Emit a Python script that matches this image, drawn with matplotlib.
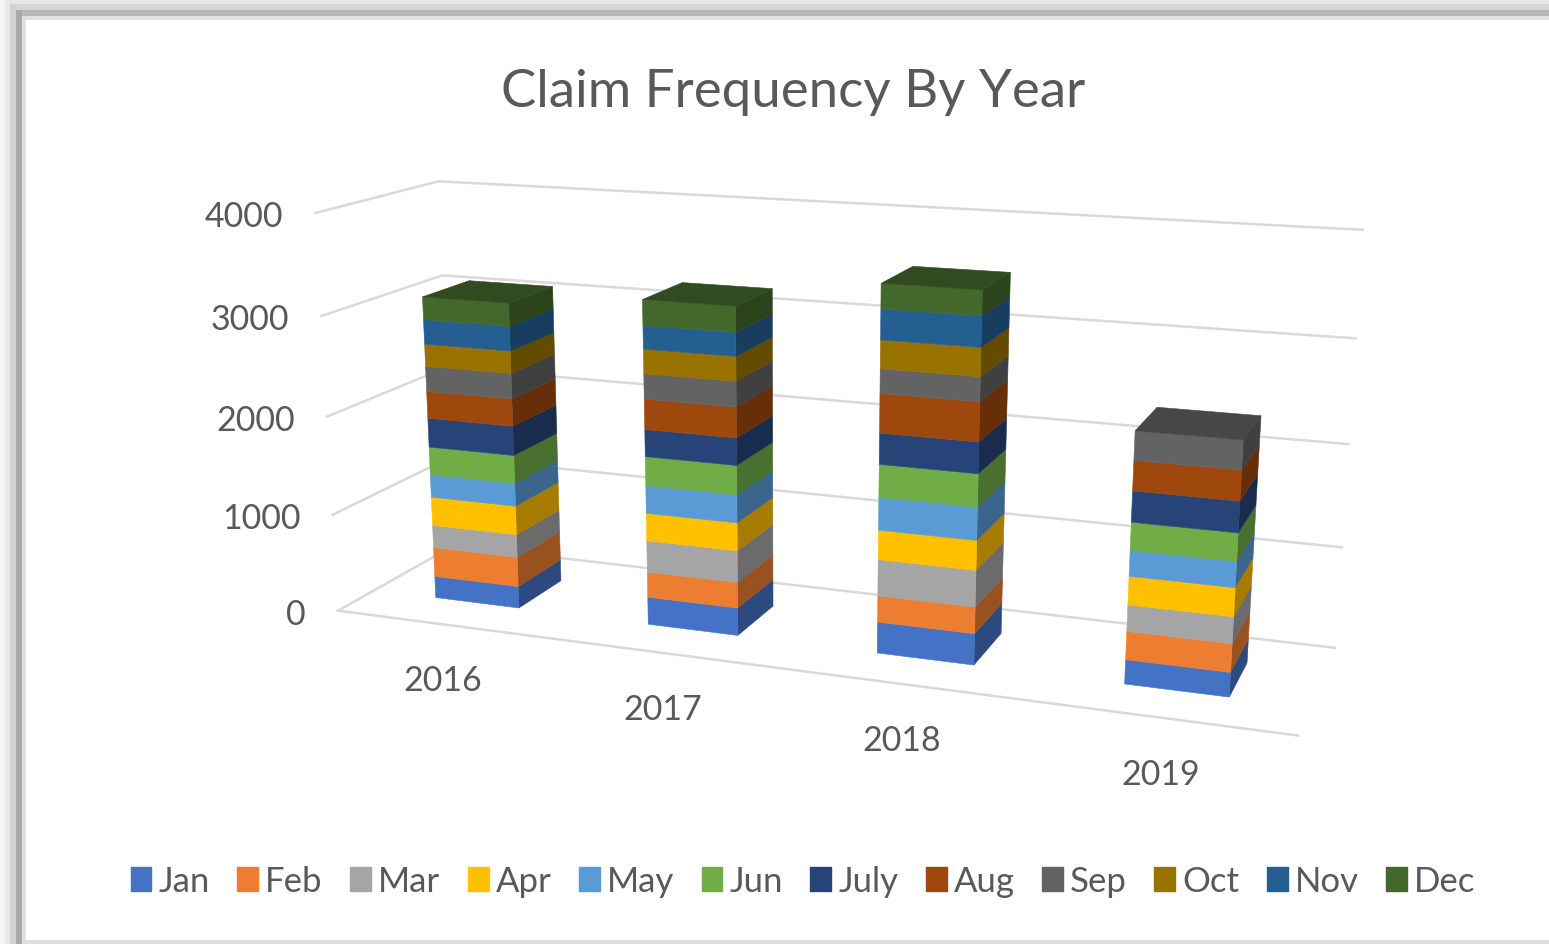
import matplotlib
matplotlib.use("Agg")
import matplotlib.pyplot as plt
import numpy as np
from matplotlib.patches import Patch, Rectangle

years = ["2016", "2017", "2018", "2019"]
months = ["Jan", "Feb", "Mar", "Apr", "May", "Jun", "July", "Aug", "Sep", "Oct", "Nov", "Dec"]
colors = ["#4472C4", "#ED7D31", "#A5A5A5", "#FFC000", "#5B9BD5", "#70AD47",
          "#264478", "#9E480E", "#636363", "#997300", "#255E91", "#43682B"]

claims_2016 = [226, 306, 235, 296, 235, 286, 296, 276, 255, 224, 245, 228]
claims_2017 = [279, 259, 318, 279, 279, 289, 269, 299, 249, 239, 229, 249]
claims_2018 = [308, 260, 356, 288, 317, 317, 298, 375, 231, 269, 288, 234]
claims_2019 = [234, 271, 252, 271, 243, 262, 290, 280, 270, 0, 0, 0]
claims = [claims_2016, claims_2017, claims_2018, claims_2019]
y_ticks = [0, 1000, 2000, 3000, 4000]

Y_MAX = 4000
GRID = "#D9D9D9"
TEXT = "#595959"

# camera: (category, depth, value share) -> picture pixel, fitted on the walls
calib = [
    ((0, 0, 0), (340, 611)), ((0, 0, .25), (330, 516)), ((0, 0, .5), (325, 416)),
    ((0, 0, .75), (320, 318)), ((0, 0, 1), (313, 214)),
    ((0, 1, 0), (445, 552)), ((0, 1, .75), (445, 277)), ((0, 1, 1), (442, 182)),
    ((1, 1, 0), (1335, 647)), ((1, 1, .25), (1342, 547)), ((1, 1, .5), (1350, 444)),
    ((1, 1, .75), (1355, 340)), ((1, 1, 1), (1362, 231)),
    ((.075, .3, 0), (438, 598)), ((.175, .3, 0), (521, 607)), ((.175, .7, 0), (563, 580)),
    ((.825, .3, 0), (1124, 684)), ((.925, .3, 0), (1229, 697)), ((.925, .7, 0), (1247, 663)),
]
# front right corner counts for more, the long floor edge depends on it
calib += [((1, 0, 0), (1298, 738))] * 5 + [((0, 0, 0), (340, 611))] * 2


def fit_camera(pairs):
    rows, rhs = [], []
    for (a, b, c), (px, py) in pairs:
        rows.append([a, b, c, 1, 0, 0, 0, 0, -px * a, -px * b, -px * c])
        rows.append([0, 0, 0, 0, a, b, c, 1, -py * a, -py * b, -py * c])
        rhs += [px, py]
    sol = np.linalg.lstsq(np.array(rows, float), np.array(rhs, float), rcond=None)[0]
    return np.append(sol, 1.0).reshape(3, 4)


CAM = fit_camera(calib)


def project(u, d, value):
    p = CAM @ np.array([u, d, value / Y_MAX, 1.0])
    return p[0] / p[2], p[1] / p[2]


def shade(color, factor):
    return tuple(c * factor for c in matplotlib.colors.to_rgb(color))


def face(ax, corners, color, z):
    pts = [project(*c) for c in corners]
    ax.fill([p[0] for p in pts], [p[1] for p in pts], color=color, lw=0.4, zorder=z)


plt.rcParams["font.family"] = ["Lato", "DejaVu Sans"]
fig = plt.figure(figsize=(15.49, 9.45), dpi=100)
ax = fig.add_axes([0, 0, 1, 1])
ax.set_xlim(0, 1549)
ax.set_ylim(945, 0)
ax.axis("off")

# window shadow around the pasted chart
for x0, x1, c in [(0, 5, "#F4F4F4"), (5, 10, "#E8E8E8"), (10, 16, "#D2D2D2"), (16, 22, "#A8A8A8"), (22, 26, "#E0E0E0")]:
    ax.add_patch(Rectangle((x0, 0), x1 - x0, 945, color=c, lw=0, zorder=1))
for y0, y1, c in [(0, 5, "#E6E6E6"), (5, 11, "#D6D6D6"), (11, 17, "#B6B6B6"), (17, 21, "#E0E0E0")]:
    ax.add_patch(Rectangle((max(26 - (21 - y1), 0), y0), 1549, y1 - y0, color=c, lw=0, zorder=1))
ax.add_patch(Rectangle((22, 941), 1527, 4, color="#DEDEDE", lw=0, zorder=1))

# gridlines on side and back walls
for v in y_ticks:
    pts = [project(0, 0, v), project(0, 1, v), project(1, 1, v)]
    ax.plot([p[0] for p in pts], [p[1] for p in pts], color=GRID, lw=1.8, zorder=2)
    x, y = pts[0]
    ax.text(x - 32, y + 3, str(v), ha="right", va="center", fontsize=24.5, color=TEXT)
p0, p1 = project(0, 0, 0), project(1, 0, 0)
ax.plot([p0[0], p1[0]], [p0[1], p1[1]], color=GRID, lw=1.8, zorder=2)

# stacked bars
n = len(years)
for i, (year, row) in enumerate(zip(years, claims)):
    u0, u1 = (i + .3) / n, (i + .7) / n
    d0, d1 = .3, .7
    base = 0
    for j, val in enumerate(row):
        if val == 0:
            continue
        top = base + val
        z = 3 + j * 0.01
        face(ax, [(u1, d0, base), (u1, d1, base), (u1, d1, top), (u1, d0, top)], shade(colors[j], .65), z)
        face(ax, [(u0, d0, base), (u1, d0, base), (u1, d0, top), (u0, d0, top)], colors[j], z)
        last, base = j, top
    face(ax, [(u0, d0, base), (u1, d0, base), (u1, d1, base), (u0, d1, base)], shade(colors[last], .72), 4)
    x, y = project((i + .5) / n, 0, 0)
    ax.text(x, y + 56, year, ha="center", va="center", fontsize=24.5, color=TEXT)

ax.text(793, 92, "Claim Frequency By Year", ha="center", va="center", fontsize=38, color=TEXT)

handles = [Patch(color=c, label=m) for c, m in zip(colors, months)]
ax.legend(handles=handles, ncols=12, loc="center", bbox_to_anchor=(803, 882), bbox_transform=ax.transData,
          frameon=False, fontsize=25, labelcolor=TEXT, handlelength=0.6, handleheight=0.66,
          handletextpad=0.2, columnspacing=0.795, borderpad=0, borderaxespad=0)

fig.savefig("out.png", dpi=100)
